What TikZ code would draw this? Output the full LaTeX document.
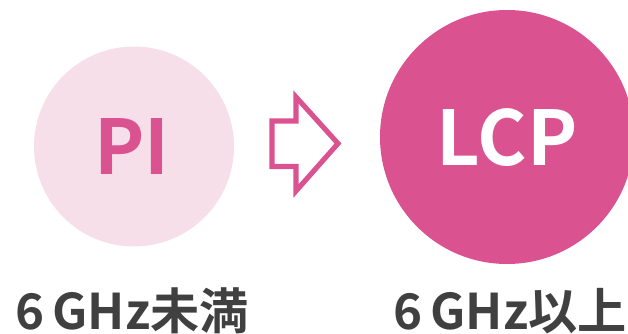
\documentclass[tikz,border=0pt]{standalone}
\usepackage{fontspec}
\newfontfamily\jpfont{Noto Sans CJK JP Bold}
\definecolor{lcppink}{HTML}{DB5290}
\definecolor{pipink}{HTML}{F7DFEA}
\definecolor{labelgray}{HTML}{404040}
\tikzset{
  freqlabel/.style={anchor=base, inner sep=0pt, text=labelgray, font=\jpfont\fontsize{28}{28}\selectfont},
  material/.style={anchor=base, inner sep=0pt, font=\jpfont\fontsize{43}{43}\selectfont}
}
\begin{document}
\begin{tikzpicture}[x=0.02cm, y=-0.02cm]
  \useasboundingbox (0,0) rectangle (628,334);

  \fill [pipink] (134,146.5) circle (100);
  \fill [lcppink] (507,137) circle (127);

  \node [material, text=lcppink] (pi) at (132,174) {PI};
  \node [material, text=white] (lcp) at (507,166) {LCP};

  \draw [lcppink, line width=2.9pt, line join=miter]
    (272,121) -- (296,121) -- (296,97) -- (338,143.5)
    -- (296,191) -- (296,166.5) -- (272,166.5) -- cycle;

  \node [freqlabel] (low) at (132,329) {6\,GHz未満};
  \node [freqlabel] (high) at (510,329) {6\,GHz以上};
\end{tikzpicture}
\end{document}
